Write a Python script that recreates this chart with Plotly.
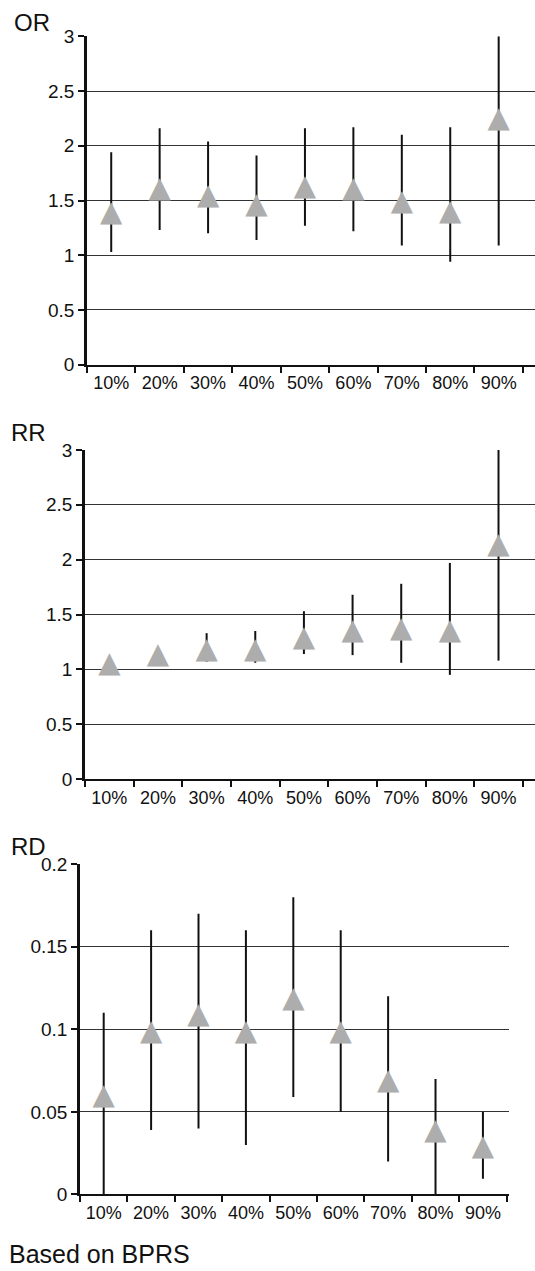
import plotly.graph_objects as go

categories = ["10%", "20%", "30%", "40%", "50%", "60%", "70%", "80%", "90%"]

or_est = [1.38, 1.60, 1.53, 1.45, 1.62, 1.60, 1.48, 1.39, 2.24]
or_low = [1.03, 1.23, 1.20, 1.14, 1.27, 1.22, 1.09, 0.94, 1.09]
or_high = [1.94, 2.16, 2.04, 1.91, 2.16, 2.17, 2.10, 2.17, 3.00]

rr_est = [1.04, 1.12, 1.17, 1.17, 1.28, 1.34, 1.36, 1.34, 2.13]
rr_low = [1.00, 1.07, 1.07, 1.06, 1.14, 1.13, 1.06, 0.95, 1.08]
rr_high = [1.08, 1.17, 1.33, 1.35, 1.53, 1.68, 1.78, 1.97, 3.00]

rd_est = [0.059, 0.098, 0.108, 0.098, 0.118, 0.098, 0.068, 0.038, 0.028]
rd_low = [0.000, 0.039, 0.040, 0.030, 0.059, 0.050, 0.020, 0.000, 0.0095]
rd_high = [0.110, 0.160, 0.170, 0.160, 0.180, 0.160, 0.120, 0.070, 0.050]

panel_titles = ["OR", "RR", "RD"]
footnote = "Based on BPRS"

W, H = 535, 1271
FONT = "Liberation Sans, Arial, sans-serif"


def fy(px):
    # target page pixel -> paper fraction (calibrated against rendering)
    return 1 - ((px - 8.7) / 0.985) / H


fig = go.Figure()

xpos = list(range(len(categories)))
bounds = [i - 0.5 for i in range(len(categories) + 1)]

panels = [
    dict(est=or_est, low=or_low, high=or_high, xd=[87 / W, 1.0], xr=[-0.5, 8.75],
         yd=[fy(364), fy(35)], yr=[0, 3], dt=0.5),
    dict(est=rr_est, low=rr_low, high=rr_high, xd=[85 / W, 1.0], xr=[-0.5, 8.75],
         yd=[fy(779), fy(449.3)], yr=[0, 3], dt=0.5),
    dict(est=rd_est, low=rd_low, high=rd_high, xd=[80 / W, 509 / W], xr=[-0.5, 8.55],
         yd=[fy(1195), fy(864.3)], yr=[0, 0.2], dt=0.05),
]

layout = {}
for i, p in enumerate(panels):
    n = "" if i == 0 else str(i + 1)
    # confidence intervals
    fig.add_trace(go.Scatter(
        x=xpos, y=p["est"], mode="markers",
        xaxis="x" + n, yaxis="y" + n,
        marker=dict(size=2, color="rgba(0,0,0,0)"),
        error_y=dict(type="data", symmetric=False,
                     array=[h - e for h, e in zip(p["high"], p["est"])],
                     arrayminus=[e - l for e, l in zip(p["est"], p["low"])],
                     thickness=2, width=0, color="#111"),
        cliponaxis=False, showlegend=False, hoverinfo="skip",
    ))
    # point estimates (triangle glyphs)
    fig.add_trace(go.Scatter(
        x=xpos, y=p["est"], mode="text",
        xaxis="x" + n, yaxis="y" + n,
        text=["\u25B2"] * len(xpos), textposition="middle center",
        textfont=dict(family="DejaVu Sans", size=29, color="#adadad"),
        cliponaxis=False, showlegend=False, hoverinfo="skip",
    ))
    layout["xaxis" + n] = dict(
        domain=p["xd"], range=p["xr"], anchor="y" + n,
        tickmode="array", tickvals=xpos, ticktext=categories,
        ticks="outside", ticklen=1, tickcolor="rgba(0,0,0,0)",
        minor=dict(tickmode="array", tickvals=bounds, ticks="outside",
                   ticklen=6, tickwidth=2, tickcolor="#111", showgrid=False),
        showgrid=False, zeroline=False,
        showline=True, linecolor="#111", linewidth=2,
        tickfont=dict(family=FONT, size=18, color="#111"),
        fixedrange=True,
    )
    layout["yaxis" + n] = dict(
        domain=p["yd"], range=p["yr"], anchor="x" + n,
        dtick=p["dt"], tick0=0,
        ticks="outside", ticklen=6, tickwidth=1.5, tickcolor="#111",
        showgrid=True, gridcolor="#333", gridwidth=1.4,
        zeroline=False, showline=True, linecolor="#111", linewidth=2.5,
        tickfont=dict(family=FONT, size=19, color="#111"),
        fixedrange=True,
    )

annotations = [
    dict(text=panel_titles[0], x=12 / W, y=fy(21), size=24),
    dict(text=panel_titles[1], x=9 / W, y=fy(432), size=24),
    dict(text=panel_titles[2], x=9 / W, y=fy(846), size=24),
    dict(text=footnote, x=7 / W, y=fy(1255), size=25),
]
for a in annotations:
    s = a.pop("size")
    a.update(xref="paper", yref="paper", xanchor="left", yanchor="middle",
             showarrow=False, font=dict(family=FONT, size=s, color="#111"))

fig.update_layout(
    width=W, height=H,
    margin=dict(l=0, r=0, t=0, b=0),
    paper_bgcolor="white", plot_bgcolor="white",
    annotations=annotations,
    **layout,
)

fig.write_html("out.html")
